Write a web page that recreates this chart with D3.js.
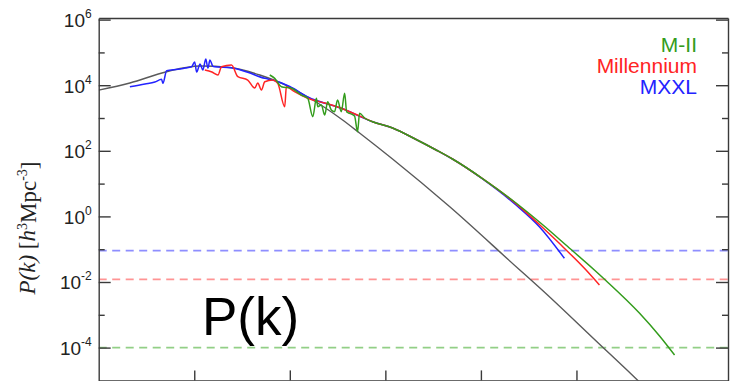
<!DOCTYPE html>
<html><head><meta charset="utf-8">
<script src="https://cdn.jsdelivr.net/npm/d3@7"></script>
<style>body{margin:0;background:#fff;overflow:hidden}</style>
</head><body>
<svg id="c" width="731" height="381"></svg>
<script>
// ---- data ----
const kLinear = [0.001,0.00212,0.00514,0.01146,0.02355,0.04853,0.0998,0.154,0.232,0.357,0.537,1.189,4.69,25.2,40.9,186,340,511];
const pLinear = [7.1e3,1.17e4,2.58e4,3.85e4,3.47e4,2.05e4,8.81e3,4.37e3,2.09e3,869,349,56.2,2.00,0.0240,0.00679,1.06e-4,2.03e-5,6.52e-6];

const kMII = [0.0617,0.0695,0.0817,0.104,0.132,0.154,0.174,0.190,0.196,0.214,0.232,0.249,0.272,0.294,0.316,0.346,0.375,0.394,0.423,0.476,0.512,0.537,0.607,0.735,1.19,2.10,3.40,5.04,10.4,23.3,44.0,77.6,154,203,458,741,1064];
const pMII = [2.05e4,1.62e4,9.0e3,8.04e3,5.02e3,3.99e3,1.10e3,3.99e3,2.21e3,2.49e3,1.23e3,3.14e3,1.75e3,1.56e3,3.54e3,1.56e3,5.66e3,1.52e3,1.39e3,1.15e3,382,1.39e3,1.00e3,771,495,221,106,56.2,14.3,2.56,0.566,0.134,0.0232,0.0111,1.11e-3,2.26e-4,5.94e-5];

const kMill = [0.0129,0.0153,0.0177,0.0193,0.0245,0.0286,0.0363,0.0430,0.0462,0.0505,0.0547,0.0662,0.0748,0.0885,0.0920,0.112,0.154,0.232,0.346,0.537,0.735,1.19,2.10,3.40,5.04,10.4,23.3,40.9,66.1,126,174];
const pMill = [2.90e4,2.52e4,2.05e4,3.66e4,4.13e4,1.82e4,1.44e4,8.22e3,1.17e4,7.14e3,1.28e4,1.44e4,1.14e4,2.21e3,9.0e3,6.34e3,3.99e3,2.86e3,1.98e3,1.15e3,771,495,221,106,56.2,14.1,2.45,0.566,0.151,0.0232,0.00811];

const kMXXL = [0.00212,0.00305,0.00387,0.00455,0.00470,0.00514,0.00675,0.00798,0.00938,0.0101,0.0106,0.0115,0.0123,0.0132,0.0139,0.0146,0.0156,0.0164,0.0245,0.0363,0.0547,0.0662,0.0998,0.154,0.346,0.735,1.19,2.10,3.40,5.04,10.4,23.3,40.9,74.8];
const pMXXL = [9.0e3,1.09e4,1.25e4,1.51e4,1.14e4,2.77e4,3.05e4,3.34e4,3.66e4,5.09e4,2.52e4,4.43e4,2.90e4,6.30e4,3.34e4,5.86e4,3.85e4,3.66e4,3.42e4,2.47e4,1.62e4,1.44e4,9.12e3,4.37e3,1.98e3,771,495,221,106,56.2,13.9,2.23,0.485,0.0528];

const shotNames  = ["MXXL","Millennium","M-II"];
const shotValues = [0.09,0.012,1e-4];

const legendLabels = ["M-II","Millennium","MXXL"];
const yMajorExponents = [6,4,2,0,-2,-4];
const yMinorExponents = [5,3,1,-1,-3];
const xTickValues = [0.01,0.1,1,10,100];
const bigLabel = "P(k)";

// ---- styles ----
const colors = {"M-II":"#339c1c","Millennium":"#ff2424","MXXL":"#2323ff"};
const dashColors = {"M-II":"#92cf86","Millennium":"#ff9494","MXXL":"#8e8eff"};

const svg = d3.select("#c");
const L=98.7, R=728, T=18, B=380.4;
const x = d3.scaleLog().domain([1e-3, 3855]).range([L, R]);
const y = d3.scaleLog().domain([1e-5, 1.12e6]).range([B, T]);

svg.append("defs").append("clipPath").attr("id","clip")
  .append("rect").attr("x",L).attr("y",T).attr("width",R-L).attr("height",B-T);

const plot = svg.append("g").attr("clip-path","url(#clip)");

// shot-noise dashed lines
shotNames.forEach((n,i)=>{
  plot.append("line").attr("x1",L).attr("x2",R)
    .attr("y1",y(shotValues[i])).attr("y2",y(shotValues[i]))
    .attr("stroke",dashColors[n]).attr("stroke-width",1.7)
    .attr("stroke-dasharray","8,5.5");
});

const line = d3.line().x(d=>x(d[0])).y(d=>y(d[1])).curve(d3.curveMonotoneX);

plot.append("path").datum(d3.zip(kLinear,pLinear)).attr("d",line)
  .attr("fill","none").attr("stroke","#5a5a5a").attr("stroke-width",1.4);
plot.append("path").datum(d3.zip(kMXXL,pMXXL)).attr("d",line)
  .attr("fill","none").attr("stroke",colors["MXXL"]).attr("stroke-width",1.5).attr("stroke-linejoin","round");
plot.append("path").datum(d3.zip(kMill,pMill)).attr("d",line)
  .attr("fill","none").attr("stroke",colors["Millennium"]).attr("stroke-width",1.5).attr("stroke-linejoin","round");
plot.append("path").datum(d3.zip(kMII,pMII)).attr("d",line)
  .attr("fill","none").attr("stroke",colors["M-II"]).attr("stroke-width",1.5).attr("stroke-linejoin","round");

// axes
const axisCol = "#3a3a3a";
function styleAxis(g){
  g.selectAll("path,line").attr("stroke",axisCol).attr("stroke-width",1.4);
}
const yMajor = svg.append("g").attr("transform",`translate(${L},0)`)
  .call(d3.axisLeft(y).tickValues(yMajorExponents.map(e=>Math.pow(10,e)))
    .tickSizeInner(-12).tickSizeOuter(0).tickPadding(6).tickFormat(""));
styleAxis(yMajor);
yMajor.selectAll(".tick").each(function(d,i){
  const t = d3.select(this).select("text");
  t.attr("font-family","'Liberation Sans', Arial, sans-serif").attr("font-size",19)
    .attr("fill","#222").attr("dy","0.36em").attr("x",-7);
  t.append("tspan").text("10");
  t.append("tspan").attr("font-size",12).attr("dy","-0.75em").text(yMajorExponents[i] < 0 ? "-"+(-yMajorExponents[i]) : String(yMajorExponents[i]));
});
const yMinor = svg.append("g").attr("transform",`translate(${L},0)`)
  .call(d3.axisLeft(y).tickValues(yMinorExponents.map(e=>Math.pow(10,e)))
    .tickSizeInner(-6).tickSizeOuter(0).tickFormat(""));
styleAxis(yMinor); yMinor.select(".domain").remove();

const yRight = svg.append("g").attr("transform",`translate(${R},0)`)
  .call(d3.axisLeft(y).tickValues(yMajorExponents.map(e=>Math.pow(10,e))).tickSizeInner(12).tickSizeOuter(0).tickFormat(""));
styleAxis(yRight);
const yRightMinor = svg.append("g").attr("transform",`translate(${R},0)`)
  .call(d3.axisLeft(y).tickValues(yMinorExponents.map(e=>Math.pow(10,e))).tickSizeInner(6).tickSizeOuter(0).tickFormat(""));
styleAxis(yRightMinor); yRightMinor.select(".domain").remove();

const xBottom = svg.append("g").attr("transform",`translate(0,${B})`)
  .call(d3.axisBottom(x).tickValues(xTickValues).tickSizeInner(-10).tickSizeOuter(0).tickFormat(""));
styleAxis(xBottom);
const xTop = svg.append("g").attr("transform",`translate(0,${T})`)
  .call(d3.axisTop(x).tickValues([]).tickSizeOuter(0));
styleAxis(xTop);

// y title
const yt = svg.append("text").attr("transform","translate(35,228) rotate(-90)")
  .attr("text-anchor","middle").attr("font-family","'Liberation Serif', 'Times New Roman', serif")
  .attr("font-size",23).attr("fill","#222");
yt.append("tspan").attr("font-style","italic").text("P(k)");
yt.append("tspan").text(" [");
yt.append("tspan").attr("font-style","italic").text("h");
yt.append("tspan").attr("font-size",14).attr("dy","-0.6em").text("3");
yt.append("tspan").attr("dy","0.4em").text("Mpc");
yt.append("tspan").attr("font-size",14).attr("dy","-0.6em").text("-3");
yt.append("tspan").attr("dy","0.4em").text("]");

// legend
legendLabels.forEach((n,i)=>{
  svg.append("text").attr("x",697).attr("y",52+i*21.2).attr("text-anchor","end")
    .attr("font-family","'Liberation Sans', Arial, sans-serif").attr("font-size",21)
    .attr("fill",colors[n]).text(n);
});

// big label
svg.append("text").attr("x",202).attr("y",335)
  .attr("font-family","'Liberation Sans', Arial, sans-serif").attr("font-size",53)
  .attr("fill","#000").text(bigLabel);
</script>
</body></html>
